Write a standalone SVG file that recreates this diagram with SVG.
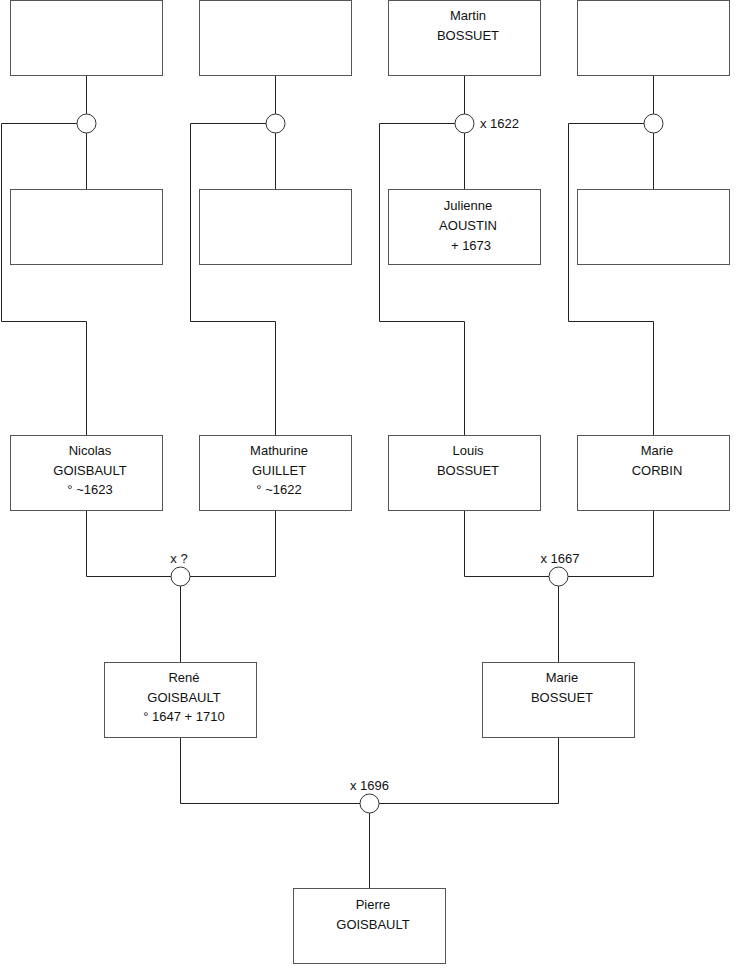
<svg xmlns="http://www.w3.org/2000/svg" width="740" height="975" viewBox="0 0 740 975">
<style>
.box{fill:#fff;stroke:#555;stroke-width:1}
.ln{fill:none;stroke:#222;stroke-width:1}
.ring{fill:#fff;stroke:#333;stroke-width:1}
text{font-family:"Liberation Sans",Arial,sans-serif;font-size:13px;fill:#111;text-anchor:middle}
.lbl{font-size:13px}
</style>
<rect width="740" height="975" fill="#fff"/>
<g id="connectors">
<path class="ln" d="M86.5 75.5V114M86.5 133V189.5M77 123.5H1.5V321.5H86.5V435.5"/>
<path class="ln" d="M275.5 75.5V114M275.5 133V189.5M266 123.5H190.5V321.5H275.5V435.5"/>
<path class="ln" d="M464.5 75.5V114M464.5 133V189.5M455 123.5H379.5V321.5H464.5V435.5"/>
<path class="ln" d="M653.5 75.5V114M653.5 133V189.5M644 123.5H568.5V321.5H653.5V435.5"/>
<path class="ln" d="M86.5 510.5V576.5H171M275.5 510.5V576.5H190M180.5 586V662.5"/>
<path class="ln" d="M464.5 510.5V576.5H549M653.5 510.5V576.5H568M558.5 586V662.5"/>
<path class="ln" d="M180.5 737.5V803.5H360M558.5 737.5V803.5H379M369.5 813V888.5"/>
<circle class="ring" cx="86.5" cy="123.5" r="9.5"/>
<circle class="ring" cx="275.5" cy="123.5" r="9.5"/>
<circle class="ring" cx="464.5" cy="123.5" r="9.5"/>
<circle class="ring" cx="653.5" cy="123.5" r="9.5"/>
<circle class="ring" cx="180.5" cy="576.5" r="9.5"/>
<circle class="ring" cx="558.5" cy="576.5" r="9.5"/>
<circle class="ring" cx="369.5" cy="803.5" r="9.5"/>
<text class="lbl" x="480" y="128" style="text-anchor:start">x 1622</text>
<text class="lbl" x="179" y="563">x ?</text>
<text class="lbl" x="560" y="563">x 1667</text>
<text class="lbl" x="369.5" y="790">x 1696</text>
</g>
<g id="n1"><rect class="box" x="10.5" y="0.5" width="152" height="75"/></g>
<g id="n2"><rect class="box" x="199.5" y="0.5" width="152" height="75"/></g>
<g id="n3"><rect class="box" x="388.5" y="0.5" width="152" height="75"/>
<text x="468" y="20">Martin</text><text x="468" y="40">BOSSUET</text></g>
<g id="n4"><rect class="box" x="577.5" y="0.5" width="152" height="75"/></g>
<g id="n5"><rect class="box" x="10.5" y="189.5" width="152" height="75"/></g>
<g id="n6"><rect class="box" x="199.5" y="189.5" width="152" height="75"/></g>
<g id="n7"><rect class="box" x="388.5" y="189.5" width="152" height="75"/>
<text x="468" y="210">Julienne</text><text x="468" y="230">AOUSTIN</text><text x="471" y="250">+ 1673</text></g>
<g id="n8"><rect class="box" x="577.5" y="189.5" width="152" height="75"/></g>
<g id="n9"><rect class="box" x="10.5" y="435.5" width="152" height="75"/>
<text x="90" y="455">Nicolas</text><text x="90" y="475">GOISBAULT</text><text x="90" y="494">° ~1623</text></g>
<g id="n10"><rect class="box" x="199.5" y="435.5" width="152" height="75"/>
<text x="279" y="455">Mathurine</text><text x="279" y="475">GUILLET</text><text x="279" y="494">° ~1622</text></g>
<g id="n11"><rect class="box" x="388.5" y="435.5" width="152" height="75"/>
<text x="468" y="455">Louis</text><text x="468" y="475">BOSSUET</text></g>
<g id="n12"><rect class="box" x="577.5" y="435.5" width="152" height="75"/>
<text x="657" y="455">Marie</text><text x="657" y="475">CORBIN</text></g>
<g id="n13"><rect class="box" x="104.5" y="662.5" width="152" height="75"/>
<text x="184" y="682">René</text><text x="184" y="702">GOISBAULT</text><text x="184" y="721">° 1647 + 1710</text></g>
<g id="n14"><rect class="box" x="482.5" y="662.5" width="152" height="75"/>
<text x="562" y="682">Marie</text><text x="562" y="702">BOSSUET</text></g>
<g id="n15"><rect class="box" x="293.5" y="888.5" width="152" height="75"/>
<text x="373" y="909">Pierre</text><text x="373" y="929">GOISBAULT</text></g>
</svg>
